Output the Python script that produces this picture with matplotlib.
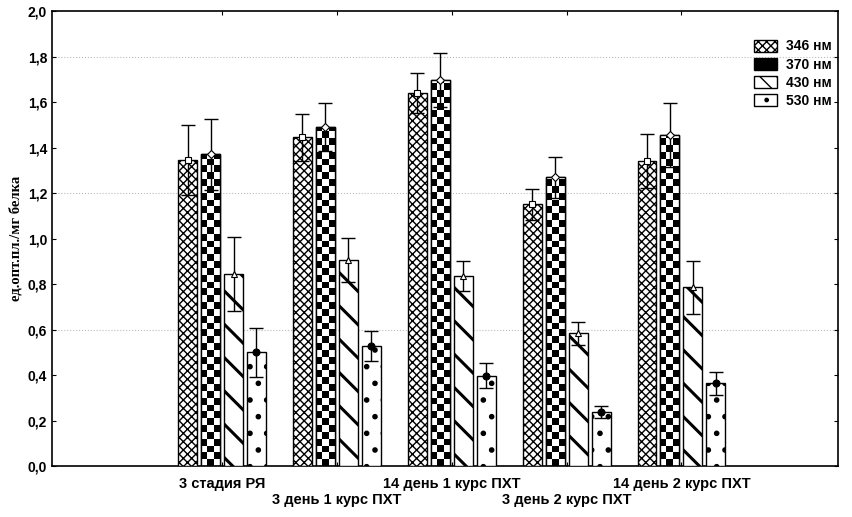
import numpy as np
import matplotlib
matplotlib.use("Agg")
import matplotlib.pyplot as plt
from matplotlib.patches import Patch

plt.rcParams["font.family"] = ["Liberation Sans", "DejaVu Sans"]
plt.rcParams["hatch.linewidth"] = 1.0

groups = ["3 стадия РЯ", "3 день 1 курс ПХТ", "14 день 1 курс ПХТ",
          "3 день 2 курс ПХТ", "14 день 2 курс ПХТ"]
series = ["346 нм", "370 нм", "430 нм", "530 нм"]

v346 = [1.345, 1.445, 1.638, 1.150, 1.341]
v370 = [1.370, 1.489, 1.697, 1.269, 1.455]
v430 = [0.844, 0.905, 0.835, 0.583, 0.785]
v530 = [0.500, 0.527, 0.396, 0.239, 0.363]

e346 = [0.155, 0.102, 0.088, 0.067, 0.117]
e370 = [0.155, 0.105, 0.117, 0.091, 0.139]
e430 = [0.162, 0.096, 0.066, 0.051, 0.118]
e530 = [0.107, 0.065, 0.055, 0.026, 0.052]

values = [v346, v370, v430, v530]
errors = [e346, e370, e430, e530]
hatches = ["xxxx", None, "\\", "."]
hatch_lw = [1.0, 1.0, 2.2, 1.6]
markers = [("s", "white", 5), ("D", "white", 4), ("^", "white", 5), ("o", "black", 5)]

fig = plt.figure(figsize=(8.53, 5.17), dpi=100)
ax = fig.add_axes([0.061, 0.0986, 0.921, 0.880])

x = np.arange(len(groups))
width = 0.165
offsets = [-0.3, -0.1, 0.1, 0.3]


def set_hlw(patches, lw):
    for p in patches:
        if hasattr(p, "set_hatch_linewidth"):
            p.set_hatch_linewidth(lw)


for k in range(4):
    xs = x + offsets[k]
    if hatches[k] is None:
        bars = ax.bar(xs, values[k], width, color="white", edgecolor="black",
                      linewidth=1, zorder=2)
        # checkerboard fill, 3 columns
        cell = 0.03
        for b in bars:
            h = b.get_height()
            nrows = int(np.ceil(h / cell))
            img = np.indices((nrows, 3)).sum(axis=0) % 2
            im = ax.imshow(1 - img, cmap="gray", interpolation="nearest",
                           origin="lower", aspect="auto", zorder=2.5,
                           extent=(b.get_x(), b.get_x() + b.get_width(), 0, nrows * cell))
            im.set_clip_path(b)
        ax.bar(xs, values[k], width, fill=False, edgecolor="black",
               linewidth=1, zorder=3)
    else:
        bars = ax.bar(xs, values[k], width, color="white", edgecolor="black",
                      hatch=hatches[k], linewidth=1, zorder=3)
        set_hlw(bars, hatch_lw[k])
    ax.errorbar(xs, values[k], yerr=errors[k], fmt="none", ecolor="black",
                elinewidth=1, capsize=5, capthick=1, zorder=4)
    m, fc, ms = markers[k]
    ax.plot(xs, values[k], ls="none", marker=m, mfc=fc, mec="black",
            ms=ms, mew=0.8, zorder=5)

ax.set_xlim(-1.48, len(groups) - 1 + 1.36)
ax.set_ylim(0, 2.0)
ax.set_yticks(np.arange(0, 2.01, 0.2))
ax.set_yticklabels([f"{t:.1f}".replace(".", ",") for t in np.arange(0, 2.01, 0.2)],
                   fontsize=10, fontweight="bold")
for yg in [0.6, 1.2, 1.8]:
    ax.axhline(yg, color="#bbbbbb", ls=":", lw=0.8, zorder=1)

ax.set_xticks(x)
ax.set_xticklabels([])
ax.tick_params(axis="both", direction="in", length=3, top=True, right=True)
for i, g in enumerate(groups):
    yoff = -0.04 if i % 2 == 0 else -0.075
    ax.text(x[i], yoff, g, transform=ax.get_xaxis_transform(), ha="center",
            va="center", fontsize=10.5, fontweight="bold")

ax.set_ylabel("ед.опт.пл./мг белка", fontsize=10.5, fontweight="bold",
              family="Liberation Serif", labelpad=4)

for s in ax.spines.values():
    s.set_linewidth(1.2)

handles = [
    Patch(facecolor="white", edgecolor="black", hatch="xxxx"),
    Patch(facecolor="black", edgecolor="black"),
    Patch(facecolor="white", edgecolor="black", hatch="\\\\"),
    Patch(facecolor="white", edgecolor="black", hatch="."),
]
set_hlw(handles[2:3], 1.5)
leg = ax.legend(handles, series, loc="upper right", bbox_to_anchor=(1.008, 0.965),
                frameon=False, prop={"size": 10, "weight": "bold"},
                handlelength=1.7, handleheight=1.0, labelspacing=0.3,
                handletextpad=0.6)

plt.savefig("out.png", dpi=100)
